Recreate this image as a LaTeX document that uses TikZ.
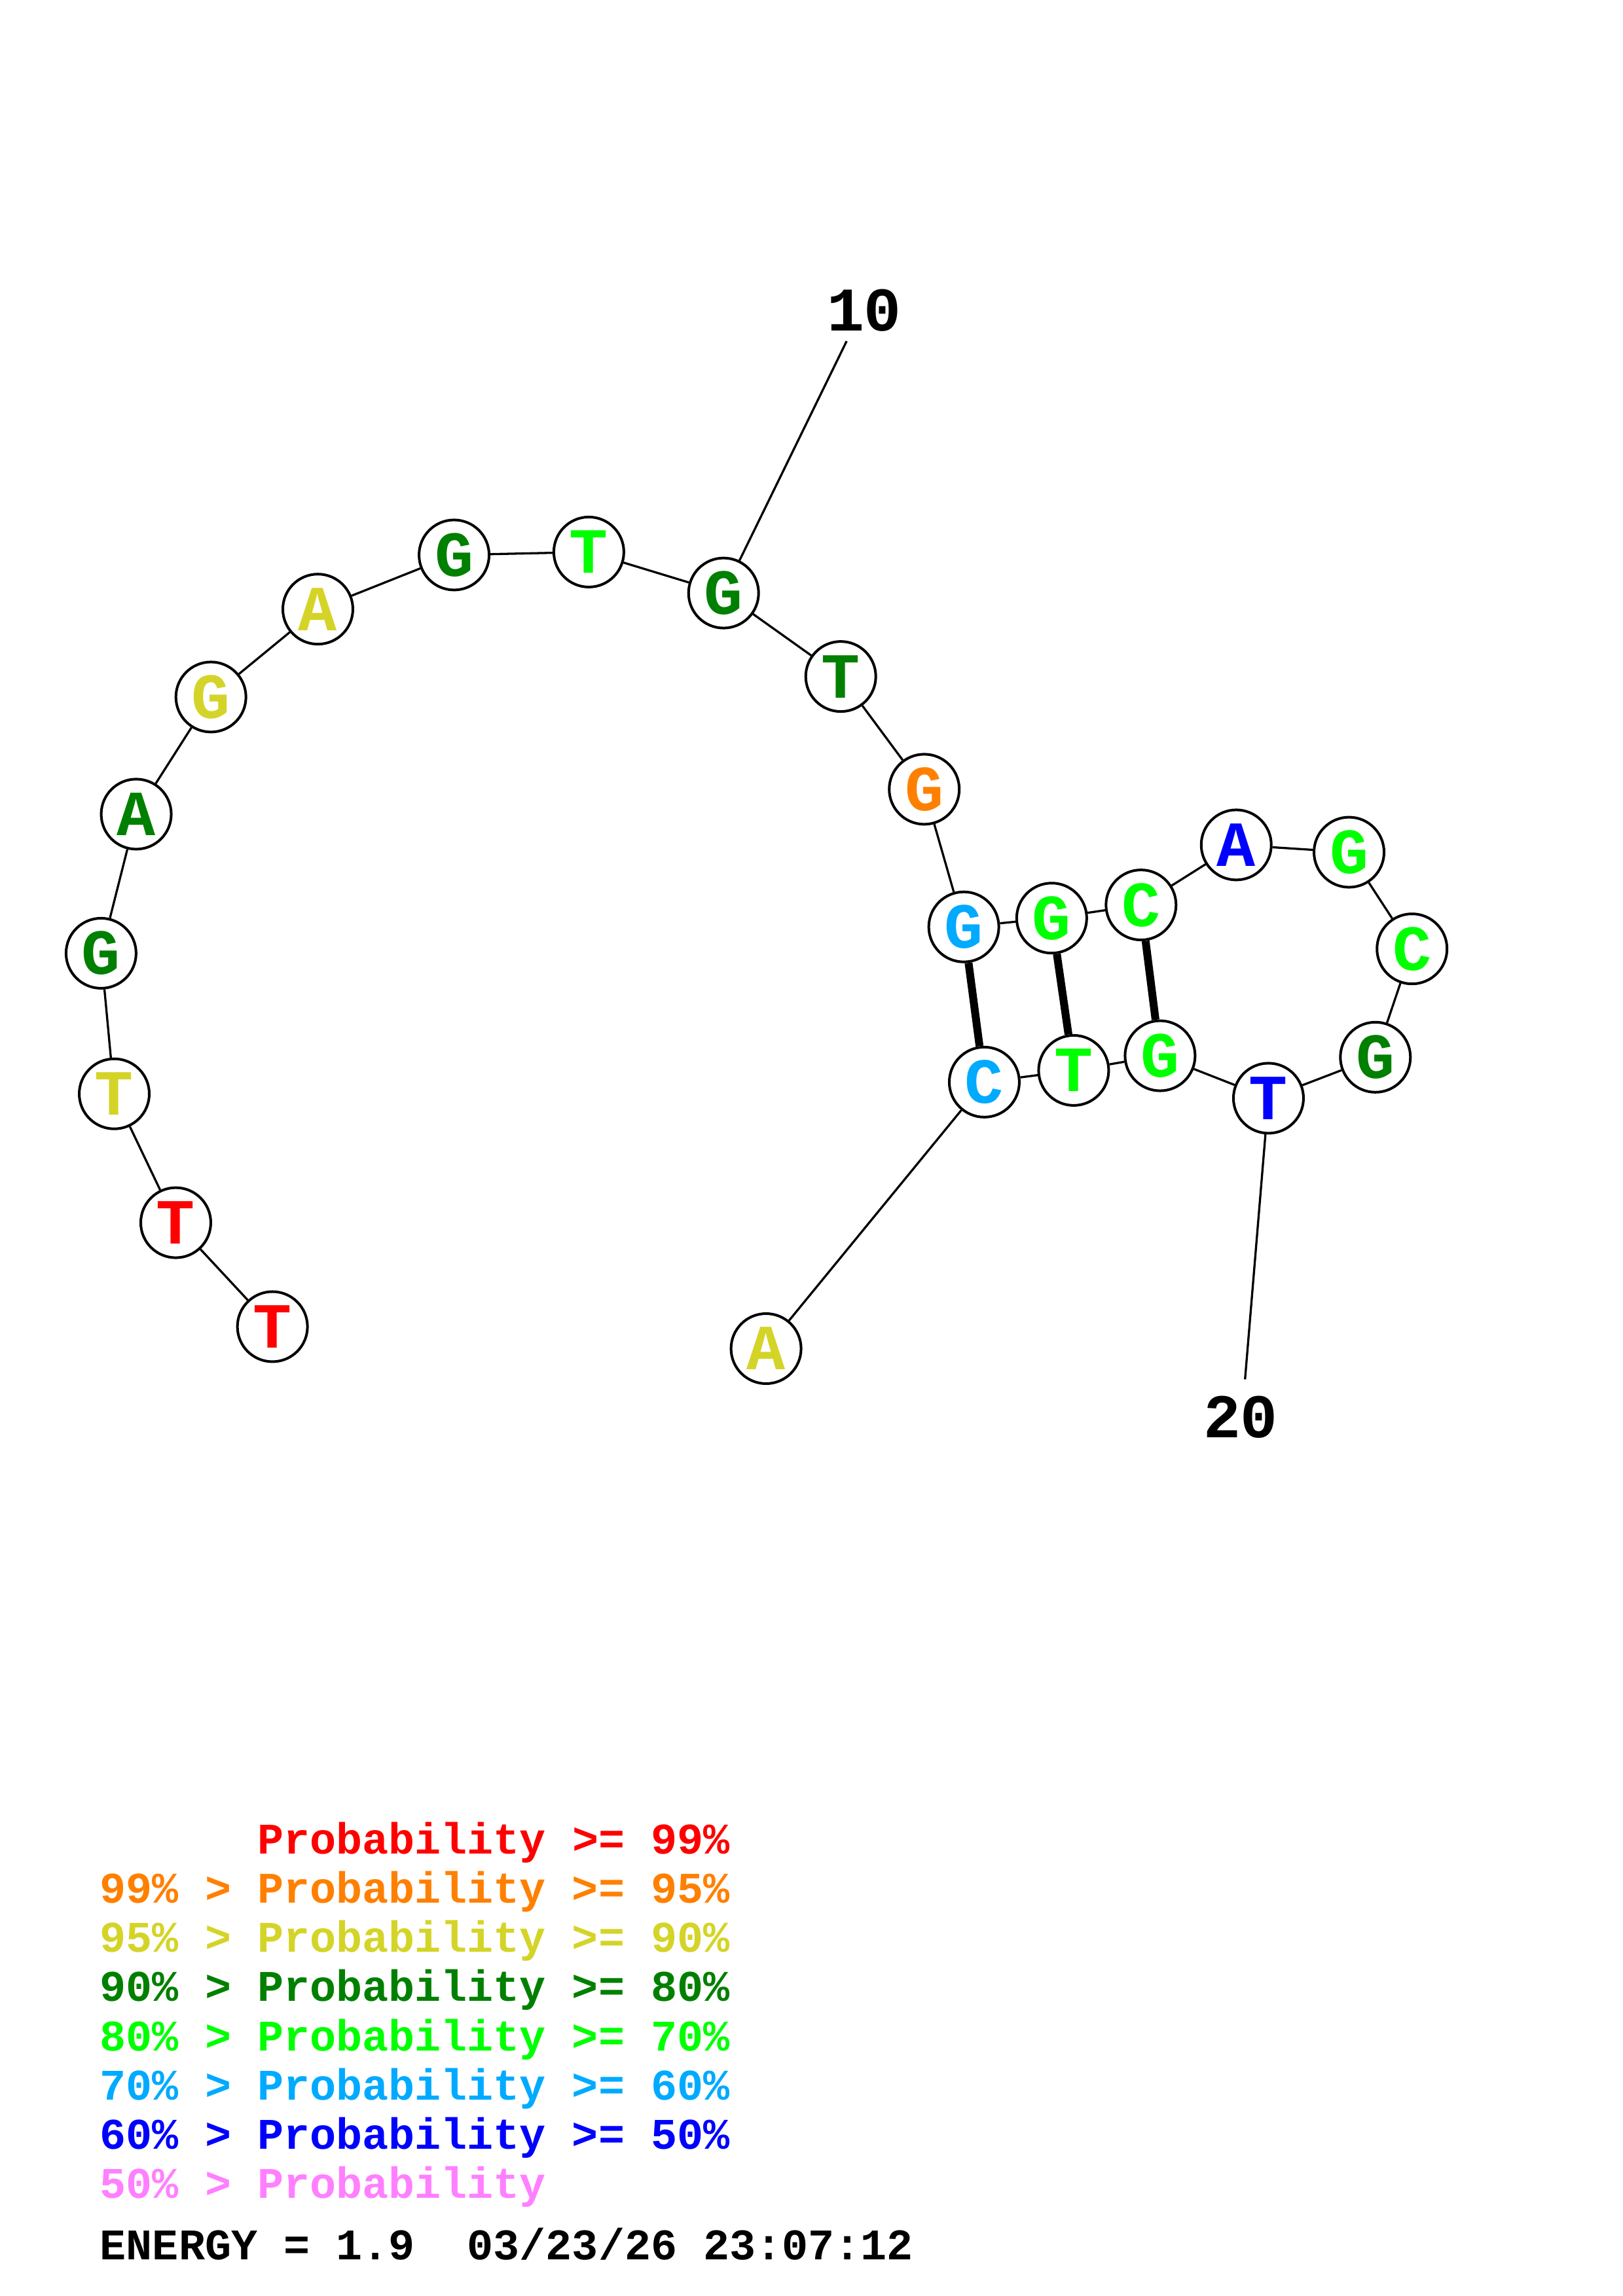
\documentclass[tikz,border=0pt]{standalone}
\usepackage{fontspec}
\setmonofont{Liberation Mono}
\definecolor{pA}{RGB}{255,0,0}
\definecolor{pB}{RGB}{255,128,0}
\definecolor{pC}{RGB}{212,212,40}
\definecolor{pD}{RGB}{0,128,0}
\definecolor{pE}{RGB}{0,255,0}
\definecolor{pF}{RGB}{0,170,255}
\definecolor{pG}{RGB}{0,0,255}
\definecolor{pH}{RGB}{255,128,255}
\tikzset{
  base/.style={circle, draw, line width=0.4mm, fill=white, minimum size=10.7mm, inner sep=0pt,
    font=\ttfamily\bfseries\fontsize{28}{28}\selectfont},
  chain/.style={line width=0.33mm},
  pairline/.style={line width=1.2mm},
  numlabel/.style={inner sep=0pt, font=\ttfamily\bfseries\fontsize{27}{27}\selectfont},
  legend/.style={anchor=base west, inner sep=0pt, font=\ttfamily\bfseries\fontsize{19}{19}\selectfont}
}
\begin{document}
\begin{tikzpicture}[x=0.22374mm, y=-0.22374mm]
  \useasboundingbox (0,0) rectangle (1108,1568);
  % Nodes
  \foreach \i/\x/\y/\b/\c in {1/186/906/T/pA, 2/120/835/T/pA, 3/78/747/T/pC, 4/69/651/G/pD,
      5/93/556/A/pD, 6/144/476/G/pC, 7/217/416/A/pC, 8/310/379/G/pD, 9/402/377/T/pE,
      10/494/405/G/pD, 11/574/462/T/pD, 12/631/539/G/pB, 13/658/633/G/pF, 14/718/627/G/pE,
      15/779/618/C/pE, 16/844/577/A/pG, 17/921/582/G/pE, 18/964/648/C/pE, 19/939/722/G/pD,
      20/866/750/T/pG, 21/792/721/G/pE, 22/733/731/T/pE, 23/672/739/C/pF, 24/523/921/A/pC}
  \node[base, text=\c] (N\i) at (\x,\y) {\b};

  % Edges
  \foreach \i [count=\j from 2] in {1,...,23}
  \draw[chain] (N\i) -- (N\j);
  \foreach \i/\j in {13/23, 14/22, 15/21}
  \draw[pairline] (N\i) -- (N\j);

  % Position labels
  \node[numlabel] (ten) at (590,212) {10};
  \node[numlabel] (twenty) at (847,968) {20};
  \coordinate (tenend) at (578,233);
  \coordinate (twentyend) at (850,942);
  \draw[chain] (tenend) -- (N10);
  \draw[chain] (twentyend) -- (N20);

  % Legend
  \foreach \c/\t [count=\k from 0] in {pA/\phantom{99\% > }Probability >= 99\%,
      pB/99\% > Probability >= 95\%, pC/95\% > Probability >= 90\%,
      pD/90\% > Probability >= 80\%, pE/80\% > Probability >= 70\%,
      pF/70\% > Probability >= 60\%, pG/60\% > Probability >= 50\%,
      pH/50\% > Probability}
  \node[legend, text=\c] (L\k) at (68,{1266+33.6*\k}) {\t};
  \node[legend] (energy) at (68,1543) {ENERGY = 1.9~~03/23/26 23:07:12};
\end{tikzpicture}
\end{document}
